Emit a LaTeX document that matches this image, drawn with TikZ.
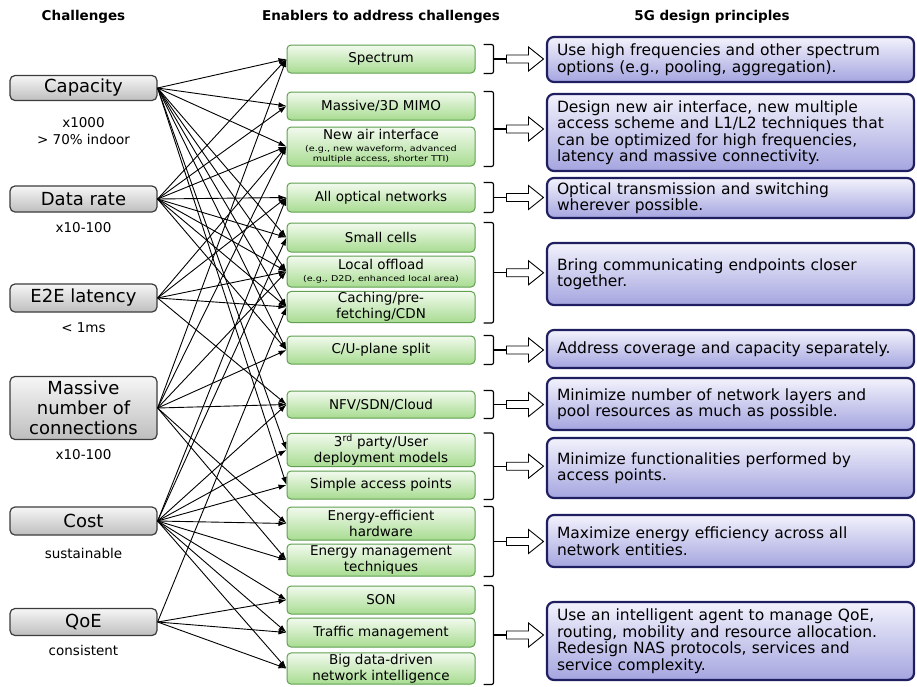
\documentclass[tikz,border=0pt]{standalone}
\usepackage{fontspec}
\setmainfont{DejaVu Sans}
\newfontfamily\smallwide[FakeStretch=1.2]{DejaVu Sans}
\usepackage{tikz}
\usetikzlibrary{calc,arrows.meta}

\definecolor{chaltop}{RGB}{246,246,246}
\definecolor{chalbot}{RGB}{190,190,190}
\definecolor{challine}{RGB}{60,60,60}
\definecolor{enabtop}{RGB}{242,250,238}
\definecolor{enabbot}{RGB}{168,220,145}
\definecolor{enabline}{RGB}{96,160,80}
\definecolor{princtop}{RGB}{242,242,252}
\definecolor{princbot}{RGB}{165,165,224}
\definecolor{princline}{RGB}{30,30,96}

\tikzset{
  chal/.style={draw=challine, line width=1.2, rounded corners=5, top color=chaltop, bottom color=chalbot,
    minimum width=147, align=center, inner sep=1, font=\fontsize{18}{20}\selectfont},
  chalnote/.style={align=center, font=\fontsize{13.5}{17}\selectfont},
  enab/.style={draw=enabline, line width=1, rounded corners=4, top color=enabtop, bottom color=enabbot,
    minimum width=188, align=center, inner sep=1, font=\fontsize{13.5}{16}\selectfont},
  princ/.style={draw=princline, line width=2.2, rounded corners=7, top color=princtop, bottom color=princbot,
    minimum width=367, text width=347, inner xsep=10, align=left, font=\fontsize{15.5}{16.5}\selectfont},
  head/.style={font=\bfseries\fontsize{13.5}{15}\selectfont},
  link/.style={line width=0.9, -{Latex[length=8pt,width=5.5pt]}},
  brace/.style={line width=1.2, rounded corners=2},
  fatarrow/.pic={\draw[line width=0.9, fill=white] (0,-4) -- (22,-4) -- (22,-12) -- (37,0) -- (22,12) -- (22,4) -- (0,4) -- cycle;}
}
\newcommand{\egfont}{\smallwide\fontsize{8}{9}\selectfont}

\begin{document}
\begin{tikzpicture}[x=1pt,y=-1pt]
  \useasboundingbox (0,0) rectangle (917,686);

  % headings
  \node (h1) at (83.5,17) [head] {Challenges};
  \node (h2) at (381,17) [head] {Enablers to address challenges};
  \node (h3) at (712,17) [head] {5G design principles};

  % challenges
  \node (cap) at (83.5,88) [chal, minimum height=25] {Capacity};
  \node at (83.5,131.5) [chalnote] {x1000\\> 70\% indoor};
  \node (rate) at (83.5,199) [chal, minimum height=26] {Data rate};
  \node at (83.5,228) [chalnote] {x10-100};
  \node (lat) at (83.5,298) [chal, minimum height=28] {E2E latency};
  \node at (83.5,328) [chalnote] {< 1ms};
  \node (conn) at (83.5,408) [chal, minimum height=63] {Massive\\number of\\connections};
  \node at (83.5,455) [chalnote] {x10-100};
  \node (cost) at (83.5,521) [chal, minimum height=28] {Cost};
  \node at (83.5,553) [chalnote] {sustainable};
  \node (qoe) at (83.5,622) [chal, minimum height=27] {QoE};
  \node at (83.5,650) [chalnote] {consistent};

  % enablers
  \node (spectrum) at (381,59) [enab, minimum height=28] {Spectrum};
  \node (mimo) at (381,106) [enab, minimum height=28] {Massive/3D MIMO};
  \node (air) at (381,146.5) [enab, minimum height=39] {New air interface\\[-4pt]{\egfont (e.g., new waveform, advanced}\\[-6pt]{\egfont multiple access, shorter TTI)}};
  \node (optical) at (381,197.5) [enab, minimum height=29] {All optical networks};
  \node (cells) at (381,237.5) [enab, minimum height=29] {Small cells};
  \node (offload) at (381,271.5) [enab, minimum height=31] {Local offload\\[-4pt]{\egfont (e.g., D2D, enhanced local area)}};
  \node (caching) at (381,307) [enab, minimum height=30] {Caching/pre-\\fetching/CDN};
  \node (cusplit) at (381,350) [enab, minimum height=28] {C/U-plane split};
  \node (nfv) at (381,404.5) [enab, minimum height=27] {NFV/SDN/Cloud};
  \node (party) at (381,450) [enab, minimum height=32] {3\textsuperscript{rd} party/User\\deployment models};
  \node (ap) at (381,485) [enab, minimum height=28] {Simple access points};
  \node (hw) at (381,523.5) [enab, minimum height=33] {Energy-efficient\\hardware};
  \node (mgmt) at (381,560) [enab, minimum height=32] {Energy management\\techniques};
  \node (son) at (381,600) [enab, minimum height=28] {SON};
  \node (traffic) at (381,632.5) [enab, minimum height=29] {Traffic management};
  \node (bigdata) at (381,668.5) [enab, minimum height=31] {Big data-driven\\network intelligence};

  % design principles
  \node (p1) at (730.5,59.5) [princ, minimum height=45] {Use high frequencies and other spectrum\\options (e.g., pooling, aggregation).};
  \node (p2) at (730.5,132.5) [princ, minimum height=77] {Design new air interface, new multiple\\access scheme and L1/L2 techniques that\\can be optimized for high frequencies,\\latency and massive connectivity.};
  \node (p3) at (730.5,198) [princ, minimum height=40] {Optical transmission and switching\\wherever possible.};
  \node (p4) at (730.5,274) [princ, minimum height=62] {Bring communicating endpoints closer\\together.};
  \node (p5) at (730.5,349) [princ, minimum height=38] {Address coverage and capacity separately.};
  \node (p6) at (730.5,404) [princ, minimum height=52] {Minimize number of network layers and\\pool resources as much as possible.};
  \node (p7) at (730.5,468) [princ, minimum height=60] {Minimize functionalities performed by\\access points.};
  \node (p8) at (730.5,541) [princ, minimum height=52] {Maximize energy efficiency across all\\network entities.};
  \node (p9) at (730.5,641) [princ, minimum height=78] {Use an intelligent agent to manage QoE,\\routing, mobility and resource allocation.\\Redesign NAS protocols, services and\\service complexity.};

  % challenges -> enablers
  \foreach \s/\t in {cap/spectrum, cap/mimo, cap/air, cap/cells, cap/offload, cap/caching, cap/cusplit, cap/party, cap/ap,
      rate/spectrum, rate/mimo, rate/air, rate/optical, rate/cells, rate/offload, rate/caching, rate/cusplit,
      lat/air, lat/optical, lat/offload, lat/caching, lat/nfv,
      conn/spectrum, conn/air, conn/offload, conn/cusplit, conn/nfv, conn/hw, conn/mgmt,
      cost/optical, cost/cells, cost/nfv, cost/party, cost/ap, cost/hw, cost/mgmt, cost/son, cost/traffic, cost/bigdata,
      qoe/caching, qoe/son, qoe/traffic, qoe/bigdata}
    \draw[link] (\s.east) -- (\t.west);

  % brackets and arrows to the principles
  \foreach \t/\b/\n in {spectrum/spectrum/1, mimo/air/2, optical/optical/3, cells/caching/4, cusplit/cusplit/5,
      nfv/nfv/6, party/ap/7, hw/mgmt/8, son/bigdata/9} {
    \draw[brace] ($(\t.north east)+(8,0)$) -- ++(10,0) |- ($(\b.south east)+(8,0)$);
    \draw[brace] ($(\t.north east)!0.5!(\b.south east)+(18,0)$) -- ++(13,0) coordinate (tick\n);
    \pic at (tick\n) {fatarrow};
  }
\end{tikzpicture}
\end{document}
